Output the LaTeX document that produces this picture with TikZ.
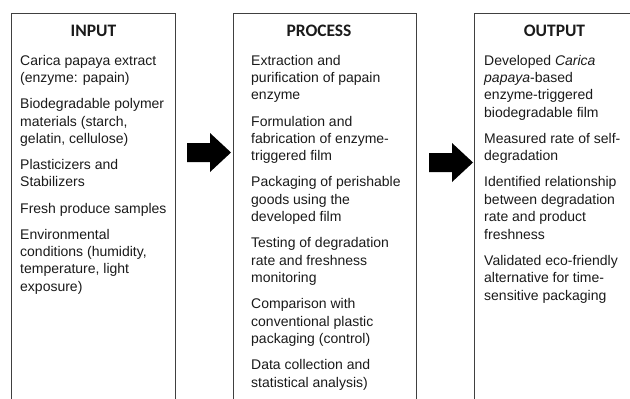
\documentclass[tikz,border=0pt]{standalone}
\usepackage{fontspec}
\setmainfont{Liberation Sans}
\newfontfamily\titlefont{Carlito}
\definecolor{boxgray}{HTML}{404040}
\definecolor{textcol}{HTML}{1A1A1A}
\begin{document}
\begin{tikzpicture}[x=1pt,y=-1pt,
  box/.style={draw=boxgray, line width=1.1pt, inner sep=0, minimum width=#1, minimum height=420pt, anchor=north west},
  title/.style={font=\titlefont\bfseries\fontsize{17.5}{20}\selectfont, anchor=base, inner sep=0, text=textcol},
  body/.style={font=\fontsize{14}{17.4}\selectfont, anchor=north west, align=left, inner sep=0, text=textcol},
  blockarrow/.style={fill=black, draw=none}]
\useasboundingbox (0,0) rectangle (630,399);
\clip (0,0) rectangle (630,399);
\node[box=164pt] (inbox) at (11,13) {};
\node[box=183pt] (prbox) at (233,13) {};
\node[box=200pt] (outbox) at (474,13) {};

\node[title] (intitle) at (93.5,36) {INPUT};
\node[title] (prtitle) at (319,36) {PROCESS};
\node[title] (outtitle) at (554.5,36) {OUTPUT};

\node[body] (intext) at (20,52.8) {\strut Carica papaya extract\\(enzyme: papain)\\[8.7pt]
Biodegradable polymer\\materials (starch,\\gelatin, cellulose)\\[8.7pt]
Plasticizers and\\Stabilizers\\[8.7pt]
Fresh produce samples\\[8.7pt]
Environmental\\conditions (humidity,\\temperature, light\\exposure)};

\node[body] (prtext) at (251,52.8) {\strut Extraction and\\purification of papain\\enzyme\\[8.7pt]
Formulation and\\fabrication of enzyme-\\triggered film\\[8.7pt]
Packaging of perishable\\goods using the\\developed film\\[8.7pt]
Testing of degradation\\rate and freshness\\monitoring\\[8.7pt]
Comparison with\\conventional plastic\\packaging (control)\\[8.7pt]
Data collection and\\statistical analysis)};

\node[body] (outtext) at (484,52.8) {\strut Developed \textit{Carica}\\\textit{papaya}-based\\enzyme-triggered\\biodegradable film\\[8.7pt]
Measured rate of self-\\degradation\\[8.7pt]
Identified relationship\\between degradation\\rate and product\\freshness\\[8.7pt]
Validated eco-friendly\\alternative for time-\\sensitive packaging};

\coordinate (a1) at (187,152.5);
\coordinate (a2) at (429,162.5);
\fill[blockarrow] (a1) ++(0,-9.5) -- ++(23,0) -- ++(0,-10) -- ++(21,19.5) -- ++(-21,19.5) -- ++(0,-10) -- ++(-23,0) -- cycle;
\fill[blockarrow] (a2) ++(0,-9.5) -- ++(23,0) -- ++(0,-10) -- ++(21,19.5) -- ++(-21,19.5) -- ++(0,-10) -- ++(-23,0) -- cycle;
\end{tikzpicture}
\end{document}
